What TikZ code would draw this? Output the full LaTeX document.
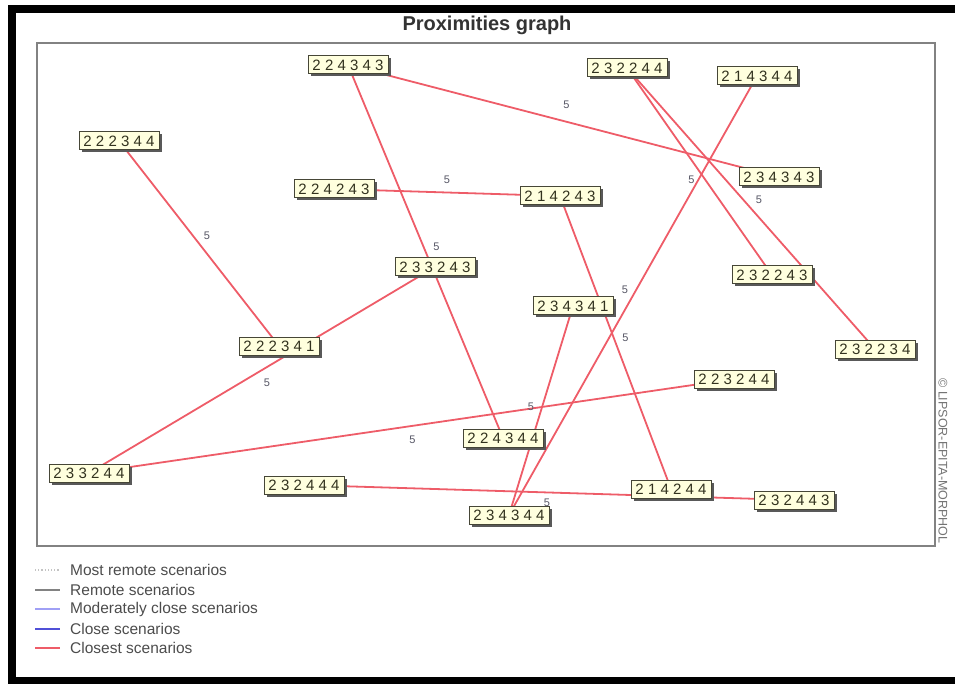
\documentclass[tikz,border=0pt]{standalone}
\usepackage{fontspec}
\setmainfont{Liberation Sans}
\newfontfamily\digitfont[LetterSpace=28]{Liberation Sans}
\usetikzlibrary{positioning,shadows,backgrounds}
\definecolor{closestred}{RGB}{238,92,104}
\definecolor{closeblue}{RGB}{80,80,215}
\definecolor{moderateblue}{RGB}{160,160,245}
\definecolor{remotegray}{RGB}{130,130,130}
\definecolor{mostremotegray}{RGB}{195,195,195}
\definecolor{boxcream}{RGB}{255,255,222}
\definecolor{boxborder}{RGB}{70,70,55}
\definecolor{digitolive}{RGB}{50,50,30}
\definecolor{framegray}{RGB}{130,130,130}
\definecolor{labelgray}{RGB}{85,85,100}

\tikzset{
  scen/.style={draw=boxborder, fill=boxcream, line width=1pt, minimum width=80pt, minimum height=18pt, inner sep=0pt,
    font=\digitfont\fontsize{15}{15}\selectfont, text=digitolive,
    drop shadow={shadow xshift=2.5pt, shadow yshift=-2.5pt, fill=black!65, opacity=1}},
  link/.style={closestred, line width=1.8pt},
  dist/.style={font=\fontsize{11}{11}\selectfont, text=labelgray, inner sep=0pt},
  legtext/.style={anchor=west, font=\fontsize{15.5}{15.5}\selectfont, text=black!70, inner sep=0pt}
}

\begin{document}
\begin{tikzpicture}[x=1pt,y=-1pt]
\useasboundingbox (0,0) rectangle (955,684);

% Frame
\draw[line width=8pt] (960,9.5) -- (12,9.5) -- (12,680.5) -- (960,680.5);
\node[font=\bfseries\fontsize{20}{20}\selectfont, text=black!80] (title) at (487,25) {Proximities graph};
\draw[framegray, line width=1.5pt] (37,43) rectangle (935,546);
\node[rotate=-90, font=\fontsize{12.5}{12.5}\selectfont, text=black!55] (copyright) at (943,461) {© LIPSOR-EPITA-MORPHOL};

% Scenarios
\node[scen] (n224343) at (348,65) {224343};
\node[scen] (n222344) at (119,141) {222344};
\node[scen] (n224243) at (334,189) {224243};
\node[scen] (n233243) at (435,267) {233243};
\node[scen] (n232244) at (627,68) {232244};
\node[scen] (n214344) at (757,76) {214344};
\node[scen] (n234343) at (779,177) {234343};
\node[scen] (n214243) at (560,196) {214243};
\node[scen] (n232243) at (772,275) {232243};
\node[scen] (n234341) at (573,306) {234341};
\node[scen] (n232234) at (875,349) {232234};
\node[scen] (n222341) at (279,346) {222341};
\node[scen] (n233244) at (89,473) {233244};
\node[scen] (n232444) at (304,485) {232444};
\node[scen] (n223244) at (734,379) {223244};
\node[scen] (n224344) at (503,438) {224344};
\node[scen] (n214244) at (671,489) {214244};
\node[scen] (n232443) at (794,500) {232443};
\node[scen] (n234344) at (509,515) {234344};

% Links
\begin{pgfonlayer}{background}
\draw[link] (n224343.center) -- node[dist, xshift=3, yshift=16] {5} (n234343.center);
\draw[link] (n224243.center) -- node[dist, yshift=13] {5} (n214243.center);
\draw[link] (n222344.center) -- node[dist, xshift=8, yshift=8] {5} (n222341.center);
\draw[link] (n224343.center) -- node[dist, xshift=11, yshift=5] {5} (n224344.center);
\draw[link] (n233244.center) -- node[dist, xshift=5, yshift=-13] {5} (n233243.center);
\draw[link] (n233244.center) -- node[dist, xshift=1, yshift=-14] {5} (n223244.center);
\draw[link] (n232244.center) -- node[dist, xshift=-8, yshift=-8] {5} (n232243.center);
\draw[link] (n232244.center) -- node[dist, xshift=8, yshift=9] {5} (n232234.center);
\draw[link] (n214344.center) -- node[dist, xshift=-8, yshift=6] {5} (n234344.center);
\draw[link] (n214243.center) -- node[dist, xshift=10, yshift=5] {5} (n214244.center);
\draw[link] (n234341.center) -- node[dist, xshift=-10, yshift=4] {5} (n234344.center);
\draw[link] (n232444.center) -- node[dist, xshift=-2, yshift=-10] {5} (n232443.center);
\end{pgfonlayer}

% Legend
\draw[mostremotegray, dotted, line width=1.2pt] (35,570) -- (60,570);
\node[legtext] (lmostremote) at (70,570) {Most remote scenarios};
\draw[remotegray, line width=1.5pt] (35,590) -- (60,590);
\node[legtext] (lremote) at (70,590) {Remote scenarios};
\draw[moderateblue, line width=1.5pt] (35,609) -- (60,609);
\node[legtext] (lmoderate) at (70,609) {Moderately close scenarios};
\draw[closeblue, line width=2pt] (35,629) -- (60,629);
\node[legtext] (lclose) at (70,629) {Close scenarios};
\draw[closestred, line width=2pt] (35,648) -- (60,648);
\node[legtext] (lclosest) at (70,648) {Closest scenarios};

\end{tikzpicture}
\end{document}
